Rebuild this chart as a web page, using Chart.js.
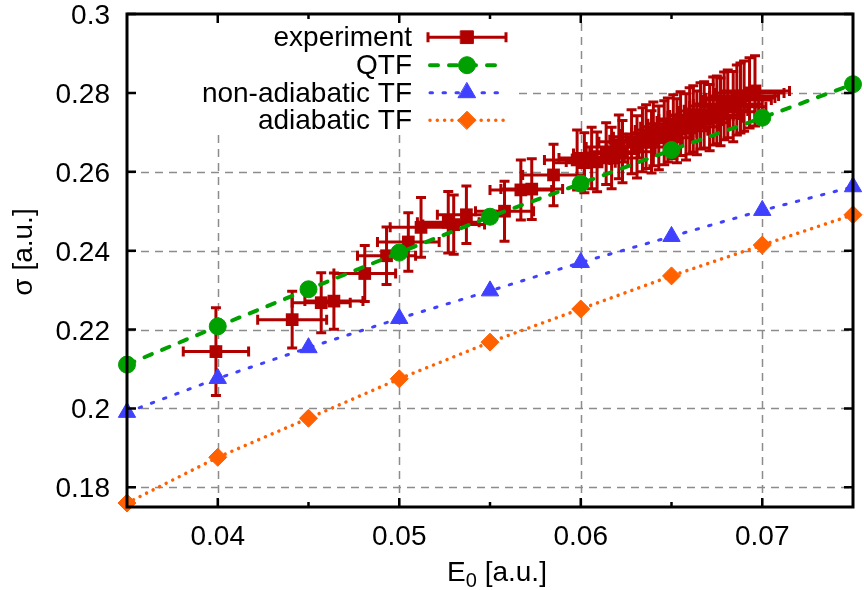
<!DOCTYPE html>
<html>
<head>
<meta charset="utf-8">
<script src="https://cdn.jsdelivr.net/npm/chart.js@4.4.1/dist/chart.umd.min.js"></script>
<style>
html,body{margin:0;padding:0;background:#ffffff;}
#wrap{width:864px;height:590px;}
</style>
</head>
<body>
<div id="wrap"><canvas id="c" width="864" height="590"></canvas></div>
<script>
// ---------- data ----------
const theoryE0 = [0.035, 0.040, 0.045, 0.050, 0.055, 0.060, 0.065, 0.070, 0.075];
const qtfSigma = [0.2111, 0.2208, 0.2302, 0.2395, 0.2486, 0.2570, 0.2655, 0.2737, 0.2822];
const nonAdiabaticSigma = [0.1990, 0.2076, 0.2154, 0.2228, 0.2298, 0.2370, 0.2436, 0.2502, 0.2562];
const adiabaticSigma = [0.1760, 0.1876, 0.1975, 0.2075, 0.2168, 0.2252, 0.2336, 0.2414, 0.2491];

const expE0 = [0.0399, 0.0441, 0.0457, 0.0464, 0.0481, 0.0493, 0.0505, 0.0512, 0.0527, 0.0530,
  0.0537, 0.0558, 0.0567, 0.0573, 0.0585,
  0.0598, 0.0602, 0.0606, 0.0609, 0.0614, 0.0617, 0.0621, 0.0623, 0.0628, 0.0631,
  0.0634, 0.0636, 0.0639, 0.0640, 0.0643, 0.0646, 0.0648, 0.0651, 0.0653, 0.0655,
  0.0658, 0.0660, 0.0662, 0.0664, 0.0666, 0.0668, 0.0671, 0.0673, 0.0675, 0.0677,
  0.0679, 0.0681, 0.0684, 0.0686, 0.0688, 0.0690, 0.0693, 0.0696];
const expSigma = [0.2144, 0.2225, 0.2268, 0.2272, 0.2342, 0.2387, 0.2422, 0.2459, 0.2472, 0.2466,
  0.2491, 0.2500, 0.2554, 0.2556, 0.2592,
  0.2630, 0.2623, 0.2635, 0.2625, 0.2646, 0.2635, 0.2663, 0.2651, 0.2676, 0.2663,
  0.2681, 0.2689, 0.2676, 0.2696, 0.2686, 0.2699, 0.2706, 0.2714, 0.2704, 0.2722,
  0.2714, 0.2729, 0.2734, 0.2724, 0.2742, 0.2744, 0.2737, 0.2754, 0.2757, 0.2752,
  0.2767, 0.2772, 0.2765, 0.2782, 0.2787, 0.2792, 0.2800, 0.2805];
const expE0Err = [0.0018, 0.0019, 0.0016, 0.0016, 0.0017, 0.0016, 0.0017, 0.0017, 0.0017, 0.0017,
  0.0016, 0.0016, 0.0017, 0.0017, 0.0017,
  0.0018, 0.0017, 0.0018, 0.0017, 0.0018, 0.0017, 0.0018, 0.0018, 0.0018, 0.0017,
  0.0018, 0.0018, 0.0017, 0.0018, 0.0018, 0.0018, 0.0018, 0.0018, 0.0017, 0.0018,
  0.0018, 0.0018, 0.0019, 0.0018, 0.0018, 0.0019, 0.0018, 0.0019, 0.0018, 0.0019,
  0.0019, 0.0019, 0.0018, 0.0019, 0.0019, 0.0019, 0.0019, 0.0019];
const expSigmaErr = [0.0111, 0.0072, 0.0076, 0.0071, 0.0071, 0.0073, 0.0074, 0.0076, 0.0078, 0.0075,
  0.0073, 0.0076, 0.0076, 0.0077, 0.0078,
  0.0076, 0.0076, 0.0078, 0.0076, 0.0078, 0.0078, 0.0081, 0.0079, 0.0081, 0.0079,
  0.0081, 0.0081, 0.0079, 0.0081, 0.0081, 0.0081, 0.0081, 0.0081, 0.0081, 0.0081,
  0.0084, 0.0084, 0.0084, 0.0081, 0.0084, 0.0084, 0.0084, 0.0086, 0.0086, 0.0086,
  0.0086, 0.0086, 0.0089, 0.0089, 0.0089, 0.0089, 0.0089, 0.0089];

const xTickValues = [0.04, 0.05, 0.06, 0.07];
const xTickLabels = ['0.04', '0.05', '0.06', '0.07'];
const xMinorTickValues = [0.045, 0.055, 0.065];
const yTickValues = [0.18, 0.20, 0.22, 0.24, 0.26, 0.28, 0.30];
const yTickLabels = ['0.18', '0.2', '0.22', '0.24', '0.26', '0.28', '0.3'];
const seriesNames = ['experiment', 'QTF', 'non-adiabatic TF', 'adiabatic TF'];

// ---------- style ----------
const FONT = "'Liberation Sans', Arial, Helvetica, sans-serif";
const RED = '#b00000', GREEN = '#00a000', BLUE = '#4040ff', ORANGE = '#ff6000';
const GRID = '#8c8c8c';

const toXY = (xs, ys) => xs.map((x, i) => ({ x: x, y: ys[i] }));

const errorBarPlugin = {
  id: 'errorBars',
  beforeDatasetDraw(chart, args) {
    if (args.index !== 0) return;
    const ctx = chart.ctx, xs = chart.scales.x, ys = chart.scales.y;
    ctx.save();
    ctx.strokeStyle = RED;
    ctx.lineWidth = 3;
    ctx.lineCap = 'butt';
    const cap = 5;
    for (let i = 0; i < expE0.length; i++) {
      const px = xs.getPixelForValue(expE0[i]);
      const py = ys.getPixelForValue(expSigma[i]);
      const x0 = xs.getPixelForValue(expE0[i] - expE0Err[i]);
      const x1 = xs.getPixelForValue(expE0[i] + expE0Err[i]);
      const y0 = ys.getPixelForValue(expSigma[i] - expSigmaErr[i]);
      const y1 = ys.getPixelForValue(expSigma[i] + expSigmaErr[i]);
      ctx.beginPath();
      ctx.moveTo(x0, py); ctx.lineTo(x1, py);
      ctx.moveTo(x0, py - cap); ctx.lineTo(x0, py + cap);
      ctx.moveTo(x1, py - cap); ctx.lineTo(x1, py + cap);
      ctx.moveTo(px, y0); ctx.lineTo(px, y1);
      ctx.moveTo(px - cap, y0); ctx.lineTo(px + cap, y0);
      ctx.moveTo(px - cap, y1); ctx.lineTo(px + cap, y1);
      ctx.stroke();
    }
    ctx.restore();
  }
};

const framePlugin = {
  id: 'frameGrid',
  beforeDatasetsDraw(chart) {
    const ctx = chart.ctx, a = chart.chartArea, xs = chart.scales.x, ys = chart.scales.y;
    ctx.save();
    ctx.strokeStyle = GRID;
    ctx.lineWidth = 1.5;
    ctx.setLineDash([8, 6]);
    xTickValues.forEach(v => {
      const px = Math.round(xs.getPixelForValue(v)) + 0.5;
      ctx.beginPath(); ctx.moveTo(px, a.bottom); ctx.lineTo(px, a.top); ctx.stroke();
    });
    yTickValues.forEach(v => {
      if (v >= 0.2999) return;
      const py = Math.round(ys.getPixelForValue(v)) + 0.5;
      ctx.beginPath(); ctx.moveTo(a.left, py); ctx.lineTo(a.right, py); ctx.stroke();
    });
    ctx.setLineDash([]);
    // opaque key box
    ctx.fillStyle = '#ffffff';
    ctx.fillRect(a.left + 1, a.top + 1, 387, 118);

    // tick labels
    ctx.fillStyle = '#000000';
    ctx.font = '28px ' + FONT;
    ctx.textBaseline = 'alphabetic';
    ctx.textAlign = 'right';
    yTickValues.forEach((v, i) => {
      ctx.fillText(yTickLabels[i], a.left - 17, ys.getPixelForValue(v) + 10);
    });
    ctx.textAlign = 'center';
    xTickValues.forEach((v, i) => {
      ctx.fillText(xTickLabels[i], xs.getPixelForValue(v), a.bottom + 38);
    });
    ctx.restore();
  },
  afterDatasetsDraw(chart) {
    const ctx = chart.ctx, a = chart.chartArea, xs = chart.scales.x, ys = chart.scales.y;
    ctx.save();
    ctx.strokeStyle = '#000000';
    ctx.lineWidth = 2.5;
    ctx.beginPath();
    const tick = (x0, y0, x1, y1) => { ctx.moveTo(x0, y0); ctx.lineTo(x1, y1); };
    xTickValues.forEach(v => {
      const px = xs.getPixelForValue(v);
      tick(px, a.bottom, px, a.bottom - 9);
      tick(px, a.top, px, a.top + 9);
    });
    xMinorTickValues.forEach(v => {
      const px = xs.getPixelForValue(v);
      tick(px, a.bottom, px, a.bottom - 5);
      tick(px, a.top, px, a.top + 5);
    });
    yTickValues.forEach(v => {
      const py = ys.getPixelForValue(v);
      tick(a.left, py, a.left + 9, py);
      tick(a.right, py, a.right - 9, py);
    });
    ctx.stroke();
    ctx.lineWidth = 3;
    ctx.strokeRect(a.left, a.top, a.right - a.left, a.bottom - a.top);

    // legend (key)
    const textRight = 412, s0 = 428, s1 = 506, sm = 467;
    const base = [46, 74, 101.5, 129];
    ctx.font = '28px ' + FONT;
    ctx.fillStyle = '#000000';
    ctx.textAlign = 'right';
    ctx.textBaseline = 'alphabetic';
    seriesNames.forEach((n, i) => ctx.fillText(n, textRight, base[i]));
    const ds = chart.data.datasets;
    // experiment sample
    let y = base[0] - 8.8;
    ctx.strokeStyle = RED; ctx.lineWidth = 3; ctx.lineCap = 'butt';
    ctx.beginPath();
    ctx.moveTo(s0, y); ctx.lineTo(s1, y);
    ctx.moveTo(s0, y - 5); ctx.lineTo(s0, y + 5);
    ctx.moveTo(s1, y - 5); ctx.lineTo(s1, y + 5);
    ctx.stroke();
    const lineSample = (i, color, width, dash) => {
      const yy = base[i] - 8.8;
      ctx.strokeStyle = color; ctx.lineWidth = width; ctx.lineCap = 'round';
      ctx.setLineDash(dash);
      ctx.beginPath(); ctx.moveTo(s0 + 2, yy); ctx.lineTo(s1 - 2, yy); ctx.stroke();
      ctx.setLineDash([]);
    };
    lineSample(1, GREEN, 4, ds[1].borderDash);
    lineSample(2, BLUE, 3, ds[2].borderDash);
    lineSample(3, ORANGE, 3.5, ds[3].borderDash);
    const styles = ['rect', 'circle', 'triangle', 'rectRot'];
    const colors = [RED, GREEN, BLUE, ORANGE];
    styles.forEach((st, i) => {
      ctx.fillStyle = colors[i]; ctx.strokeStyle = colors[i]; ctx.lineWidth = 1;
      Chart.helpers.drawPoint(ctx, { pointStyle: st, radius: ds[i].pointRadius, rotation: 0, borderWidth: 1 }, sm, base[i] - 8.8);
    });

    // axis titles
    ctx.fillStyle = '#000000';
    ctx.font = '28px ' + FONT;
    ctx.save();
    ctx.translate(24, 252);
    ctx.rotate(-Math.PI / 2);
    ctx.textAlign = 'center';
    ctx.textBaseline = 'middle';
    ctx.fillText('\u03c3 [a.u.]', 0, 0);
    ctx.restore();
    // E0 [a.u.]
    const part1 = 'E', part2 = '0', part3 = ' [a.u.]';
    ctx.font = '28px ' + FONT;
    const w1 = ctx.measureText(part1).width, w3 = ctx.measureText(part3).width;
    ctx.font = '20px ' + FONT;
    const w2 = ctx.measureText(part2).width;
    const total = w1 + w2 + w3;
    let xx = 497 - total / 2;
    const yb = 581;
    ctx.textAlign = 'left';
    ctx.textBaseline = 'alphabetic';
    ctx.font = '28px ' + FONT;
    ctx.fillText(part1, xx, yb); xx += w1;
    ctx.font = '20px ' + FONT;
    ctx.fillText(part2, xx, yb + 6); xx += w2;
    ctx.font = '28px ' + FONT;
    ctx.fillText(part3, xx, yb);
    ctx.restore();
  }
};

const chart = new Chart(document.getElementById('c'), {
  type: 'scatter',
  data: {
    datasets: [
      {
        label: seriesNames[0], data: toXY(expE0, expSigma), showLine: false,
        pointStyle: 'rect', pointRadius: 9, backgroundColor: RED, borderColor: RED, pointBorderWidth: 0,
        order: 4, clip: false
      },
      {
        label: seriesNames[1], data: toXY(theoryE0, qtfSigma), showLine: true,
        borderColor: GREEN, backgroundColor: GREEN, borderWidth: 4, borderDash: [8, 11], borderCapStyle: 'round',
        pointStyle: 'circle', pointRadius: 8.5, pointBorderWidth: 1, pointBorderColor: GREEN, order: 3, clip: false
      },
      {
        label: seriesNames[2], data: toXY(theoryE0, nonAdiabaticSigma), showLine: true,
        borderColor: BLUE, backgroundColor: BLUE, borderWidth: 3, borderDash: [2.5, 10.5], borderCapStyle: 'round',
        pointStyle: 'triangle', pointRadius: 10, pointBorderWidth: 1, pointBorderColor: BLUE, order: 2, clip: false
      },
      {
        label: seriesNames[3], data: toXY(theoryE0, adiabaticSigma), showLine: true,
        borderColor: ORANGE, backgroundColor: ORANGE, borderWidth: 3.5, borderDash: [0.01, 7.3], borderCapStyle: 'round',
        pointStyle: 'rectRot', pointRadius: 9, pointBorderWidth: 1, pointBorderColor: ORANGE, order: 1, clip: false
      }
    ]
  },
  options: {
    responsive: false,
    animation: false,
    devicePixelRatio: 1,
    layout: { padding: { top: 14, right: 2, left: 0, bottom: 0 } },
    plugins: { legend: { display: false }, tooltip: { enabled: false }, title: { display: false } },
    elements: { line: { tension: 0, fill: false } },
    scales: {
      x: {
        type: 'linear', min: 0.035, max: 0.075,
        grid: { display: false, drawTicks: false }, border: { display: false },
        ticks: { display: false },
        afterBuildTicks: s => { s.ticks = xTickValues.map(v => ({ value: v })); },
        afterFit: s => { s.height = 83; s.paddingLeft = 0; s.paddingRight = 0; s.paddingTop = 0; s.paddingBottom = 0; }
      },
      y: {
        type: 'linear', min: 0.175, max: 0.3,
        grid: { display: false, drawTicks: false }, border: { display: false },
        ticks: { display: false },
        afterBuildTicks: s => { s.ticks = yTickValues.map(v => ({ value: v })); },
        afterFit: s => { s.width = 127; s.paddingLeft = 0; s.paddingRight = 0; s.paddingTop = 0; s.paddingBottom = 0; }
      }
    }
  },
  plugins: [errorBarPlugin, framePlugin]
});
</script>
</body>
</html>
